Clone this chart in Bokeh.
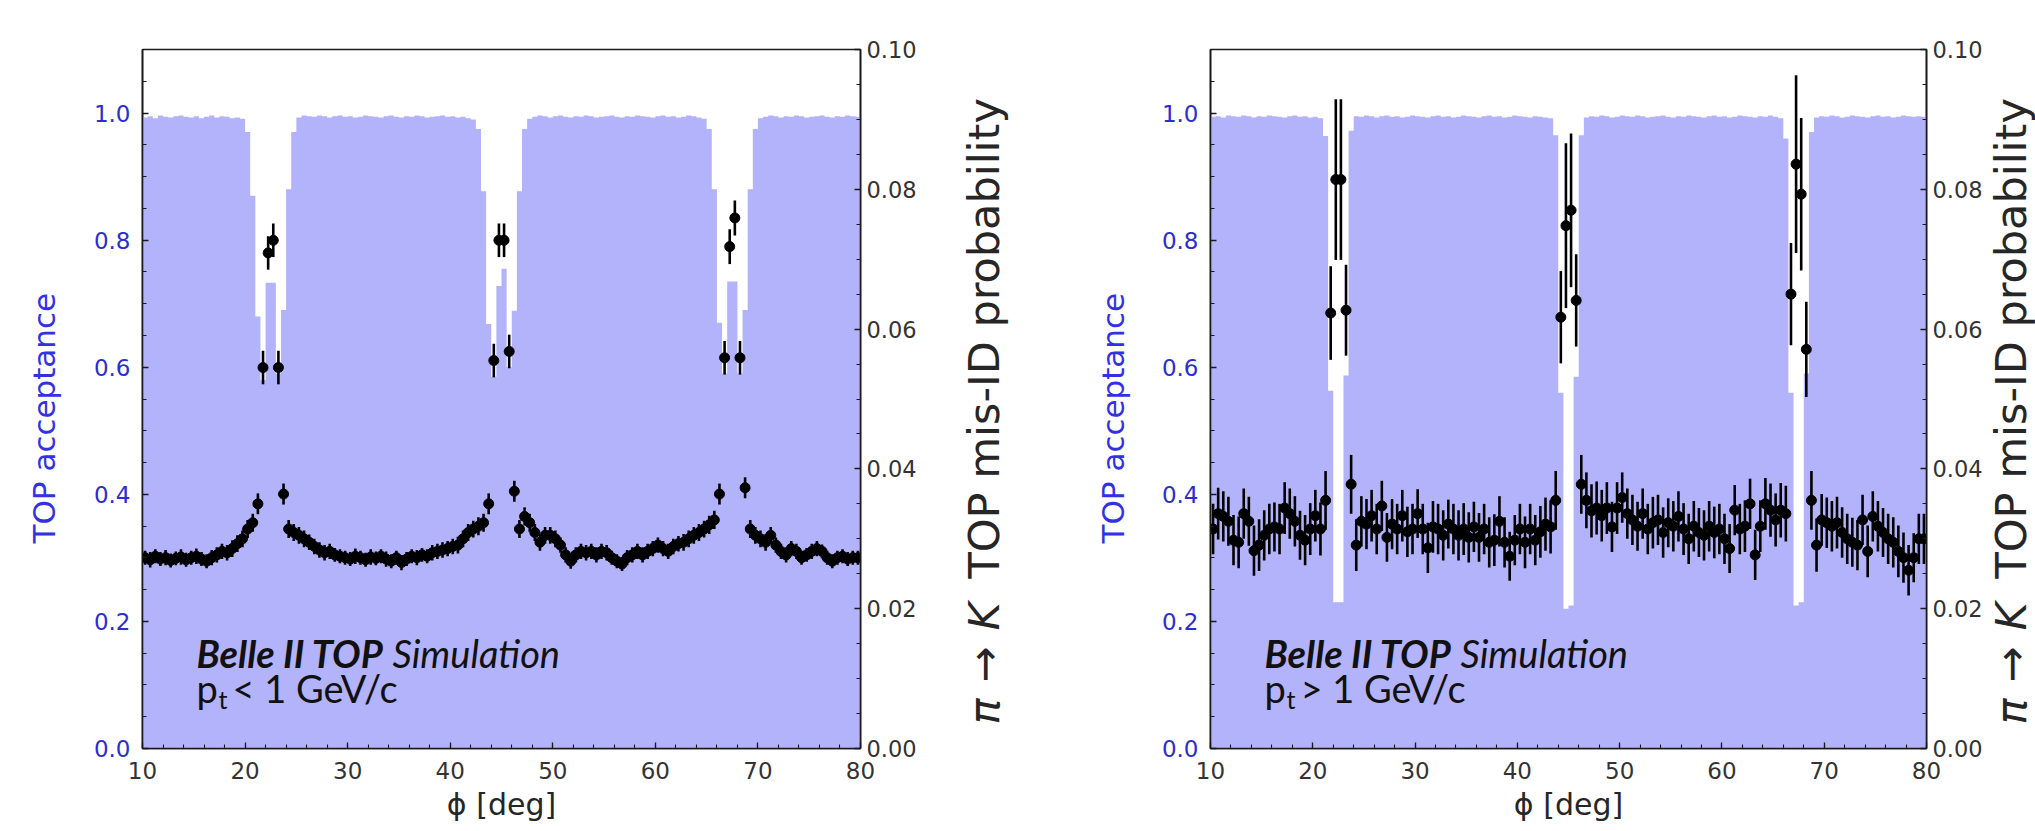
import math
import numpy as np
from bokeh.plotting import figure
from bokeh.models import Range1d, LinearAxis, FixedTicker, Label, PrintfTickFormatter
from bokeh.layouts import row
from bokeh.embed import file_html
from bokeh.resources import INLINE

# ---------------- data ----------------
PHI_MIN, PHI_MAX, BIN_W = 10.0, 80.0, 0.5
phi_edges = np.arange(PHI_MIN, PHI_MAX + BIN_W / 2, BIN_W)
phi_centers = phi_edges[:-1] + BIN_W / 2

x_ticks = [10, 20, 30, 40, 50, 60, 70, 80]
acc_ticks = [0.0, 0.2, 0.4, 0.6, 0.8, 1.0]
mis_ticks = [0.0, 0.02, 0.04, 0.06, 0.08, 0.10]

# TOP acceptance, p_t < 1 GeV/c (0.5 deg bins)
acc_low = [
    0.993, 0.995, 0.992, 0.996, 0.994, 0.993, 0.995, 0.996, 0.994, 0.993,
    0.995, 0.992, 0.994, 0.996, 0.993, 0.995, 0.994, 0.992, 0.993, 0.991,
    0.970, 0.870, 0.680, 0.580, 0.733, 0.733, 0.590, 0.690, 0.880, 0.970,
    0.993, 0.996, 0.995, 0.994, 0.996, 0.995, 0.993, 0.995, 0.996, 0.994,
    0.995, 0.993, 0.994, 0.996, 0.995, 0.994, 0.993, 0.995, 0.996, 0.994,
    0.993, 0.995, 0.994, 0.996, 0.995, 0.993, 0.994, 0.995, 0.996, 0.994,
    0.995, 0.993, 0.994, 0.992, 0.990,
    0.975, 0.877, 0.668, 0.585, 0.728, 0.755, 0.600, 0.689, 0.877, 0.975,
    0.991, 0.994, 0.996, 0.995, 0.993, 0.995, 0.996, 0.994, 0.993, 0.995,
    0.994, 0.996, 0.995, 0.993, 0.994, 0.995, 0.996, 0.994, 0.993, 0.995,
    0.994, 0.996, 0.995, 0.994, 0.993, 0.995, 0.996, 0.994, 0.995, 0.993,
    0.994, 0.996, 0.995, 0.993, 0.991,
    0.975, 0.880, 0.670, 0.590, 0.735, 0.735, 0.590, 0.690, 0.880, 0.975,
    0.992, 0.994, 0.996, 0.995, 0.993, 0.995, 0.994, 0.996, 0.995, 0.993,
    0.994, 0.995, 0.996, 0.994, 0.993, 0.995, 0.994, 0.996, 0.995, 0.994,
]

# pi -> K mis-ID probability, p_t < 1 GeV/c
mis_low = [
    0.0273, 0.0270, 0.0275, 0.0271, 0.0273, 0.0269, 0.0272, 0.0274, 0.0270, 0.0273,
    0.0275, 0.0271, 0.0268, 0.0273,
    0.0277, 0.0282, 0.0280, 0.0286, 0.0293, 0.0300, 0.0314, 0.0323, 0.0350,
    0.0545, 0.0709, 0.0727, 0.0545,
    0.0364, 0.0314, 0.0309, 0.0305, 0.0300, 0.0295, 0.0289, 0.0284, 0.0280, 0.0282,
    0.0277, 0.0275, 0.0273,
    0.0271, 0.0275, 0.0273, 0.0270, 0.0274, 0.0272, 0.0275, 0.0271, 0.0268, 0.0273,
    0.0266, 0.0271, 0.0275, 0.0273, 0.0277, 0.0275,
    0.0280, 0.0282, 0.0284, 0.0286, 0.0289, 0.0291, 0.0300, 0.0309, 0.0314, 0.0318,
    0.0323, 0.0350,
    0.0555, 0.0727, 0.0727, 0.0568,
    0.0368, 0.0314, 0.0332, 0.0323, 0.0309, 0.0295, 0.0305, 0.0305, 0.0300, 0.0291,
    0.0277, 0.0268, 0.0277, 0.0282, 0.0280, 0.0282, 0.0277, 0.0282, 0.0280, 0.0273,
    0.0268, 0.0264, 0.0273, 0.0277, 0.0282, 0.0277, 0.0282, 0.0286, 0.0291, 0.0286,
    0.0282, 0.0289, 0.0293, 0.0295, 0.0300, 0.0305, 0.0309, 0.0314, 0.0320, 0.0327,
    0.0364,
    0.0559, 0.0718, 0.0759, 0.0559,
    0.0373, 0.0314, 0.0305, 0.0300, 0.0295, 0.0305, 0.0291, 0.0282, 0.0277, 0.0286,
    0.0282, 0.0273, 0.0277, 0.0282, 0.0286, 0.0282, 0.0273, 0.0268, 0.0273, 0.0275,
    0.0271, 0.0273, 0.0273,
]

err_low = [
    0.0010, 0.0011, 0.0010, 0.0010, 0.0011, 0.0010, 0.0010, 0.0011, 0.0010, 0.0010,
    0.0011, 0.0010, 0.0010, 0.0011,
    0.0011, 0.0011, 0.0011, 0.0012, 0.0012, 0.0012, 0.0013, 0.0013, 0.0015,
    0.0024, 0.0024, 0.0024, 0.0024,
    0.0015, 0.0013, 0.0012, 0.0012, 0.0012, 0.0011, 0.0011, 0.0011, 0.0011, 0.0011,
    0.0010, 0.0010, 0.0010,
    0.0010, 0.0011, 0.0010, 0.0010, 0.0011, 0.0010, 0.0010, 0.0011, 0.0010, 0.0010,
    0.0011, 0.0010, 0.0010, 0.0011, 0.0010, 0.0010,
    0.0011, 0.0011, 0.0011, 0.0011, 0.0011, 0.0012, 0.0012, 0.0012, 0.0012, 0.0013,
    0.0013, 0.0015,
    0.0024, 0.0024, 0.0024, 0.0024,
    0.0015, 0.0013, 0.0013, 0.0013, 0.0012, 0.0012, 0.0012, 0.0012, 0.0012, 0.0011,
    0.0011, 0.0011, 0.0011, 0.0011, 0.0011, 0.0011, 0.0011, 0.0011, 0.0011, 0.0010,
    0.0010, 0.0010, 0.0011, 0.0011, 0.0011, 0.0011, 0.0011, 0.0011, 0.0011, 0.0011,
    0.0011, 0.0011, 0.0011, 0.0012, 0.0012, 0.0012, 0.0012, 0.0012, 0.0013, 0.0013,
    0.0015,
    0.0024, 0.0025, 0.0025, 0.0024,
    0.0015, 0.0013, 0.0012, 0.0012, 0.0012, 0.0012, 0.0011, 0.0011, 0.0011, 0.0011,
    0.0011, 0.0010, 0.0010, 0.0011, 0.0011, 0.0010, 0.0010, 0.0010, 0.0010, 0.0010,
    0.0010, 0.0010, 0.0010,
]

# TOP acceptance, p_t > 1 GeV/c
acc_high = [
    0.994, 0.995, 0.993, 0.996, 0.995, 0.994, 0.996, 0.995, 0.993, 0.995,
    0.994, 0.996, 0.995, 0.994, 0.993, 0.995, 0.996, 0.994, 0.995, 0.993,
    0.994, 0.992,
    0.964, 0.563, 0.230, 0.230, 0.587, 0.972,
    0.995, 0.994, 0.996, 0.995, 0.993, 0.995, 0.996, 0.994, 0.995, 0.993,
    0.994, 0.996, 0.995, 0.994, 0.993, 0.995, 0.996, 0.994, 0.995, 0.993,
    0.994, 0.996, 0.995, 0.994, 0.993, 0.995, 0.996, 0.994, 0.995, 0.993,
    0.994, 0.996, 0.995, 0.994, 0.993, 0.995, 0.994, 0.993, 0.992,
    0.965, 0.560, 0.220, 0.225, 0.585, 0.965,
    0.993, 0.995, 0.994, 0.996, 0.995, 0.993, 0.994, 0.996, 0.995, 0.994,
    0.996, 0.995, 0.993, 0.994, 0.995, 0.996, 0.994, 0.993, 0.995, 0.994,
    0.996, 0.995, 0.994, 0.993, 0.995, 0.996, 0.994, 0.995, 0.993, 0.994,
    0.996, 0.995, 0.994, 0.993, 0.995, 0.994, 0.996, 0.994, 0.992,
    0.960, 0.560, 0.225, 0.230, 0.590, 0.970,
    0.993, 0.995, 0.994, 0.996, 0.995, 0.993, 0.994, 0.996, 0.995, 0.994,
    0.993, 0.995, 0.996, 0.994, 0.995, 0.993, 0.994, 0.996, 0.995, 0.994,
    0.995, 0.994,
]

# pi -> K mis-ID probability, p_t > 1 GeV/c
mis_high = [
    0.0314, 0.0336, 0.0332, 0.0325, 0.0298, 0.0295, 0.0336, 0.0325, 0.0283, 0.0291,
    0.0305, 0.0314, 0.0317, 0.0314, 0.0344, 0.0336, 0.0325, 0.0305, 0.0298, 0.0314,
    0.0333, 0.0314, 0.0355,
    0.0623, 0.0814, 0.0814, 0.0627,
    0.0378, 0.0291, 0.0325, 0.0321, 0.0333, 0.0314, 0.0347, 0.0302, 0.0321, 0.0314,
    0.0333, 0.0310, 0.0314, 0.0336, 0.0314, 0.0287, 0.0317, 0.0314, 0.0305, 0.0321,
    0.0314, 0.0305, 0.0314, 0.0302, 0.0317, 0.0302, 0.0314, 0.0295, 0.0298, 0.0325,
    0.0295, 0.0275, 0.0298, 0.0314, 0.0295, 0.0314, 0.0298, 0.0310, 0.0321, 0.0317,
    0.0355,
    0.0617, 0.0748, 0.0770, 0.0641,
    0.0378, 0.0355, 0.0340, 0.0344, 0.0333, 0.0344, 0.0317, 0.0344, 0.0359, 0.0336,
    0.0327, 0.0318, 0.0336, 0.0314, 0.0323, 0.0327, 0.0309, 0.0323, 0.0318, 0.0332,
    0.0314, 0.0300, 0.0318, 0.0309, 0.0305, 0.0318, 0.0309, 0.0314, 0.0300, 0.0286,
    0.0341, 0.0314, 0.0318, 0.0350, 0.0277, 0.0318, 0.0350, 0.0341, 0.0327, 0.0341,
    0.0336,
    0.0650, 0.0836, 0.0793, 0.0571,
    0.0355, 0.0291, 0.0327, 0.0323, 0.0318, 0.0323, 0.0309, 0.0300, 0.0295, 0.0291,
    0.0327, 0.0282, 0.0332, 0.0318, 0.0309, 0.0300, 0.0295, 0.0282, 0.0273, 0.0255,
    0.0273, 0.0300, 0.0300,
]

err_high = [
    0.0036, 0.0037, 0.0036, 0.0035, 0.0036, 0.0037, 0.0036, 0.0035, 0.0036, 0.0037,
    0.0036, 0.0036, 0.0035, 0.0036, 0.0037, 0.0036, 0.0036, 0.0035, 0.0036, 0.0037,
    0.0037, 0.0038, 0.0042,
    0.0067, 0.0115, 0.0115, 0.0065,
    0.0042, 0.0037, 0.0036, 0.0036, 0.0037, 0.0036, 0.0036, 0.0035, 0.0036, 0.0036,
    0.0037, 0.0036, 0.0036, 0.0035, 0.0036, 0.0036, 0.0037, 0.0036, 0.0036, 0.0035,
    0.0036, 0.0036, 0.0037, 0.0036, 0.0036, 0.0035, 0.0036, 0.0036, 0.0037, 0.0036,
    0.0036, 0.0035, 0.0036, 0.0036, 0.0037, 0.0036, 0.0036, 0.0037, 0.0038, 0.0038,
    0.0042,
    0.0066, 0.0118, 0.0110, 0.0066,
    0.0042, 0.0040, 0.0038, 0.0038, 0.0037, 0.0037, 0.0036, 0.0037, 0.0036, 0.0036,
    0.0036, 0.0035, 0.0036, 0.0036, 0.0037, 0.0036, 0.0036, 0.0035, 0.0036, 0.0036,
    0.0037, 0.0036, 0.0036, 0.0035, 0.0036, 0.0036, 0.0037, 0.0036, 0.0036, 0.0035,
    0.0036, 0.0036, 0.0037, 0.0036, 0.0036, 0.0037, 0.0037, 0.0038, 0.0038, 0.0039,
    0.0040,
    0.0073, 0.0127, 0.0109, 0.0068,
    0.0042, 0.0038, 0.0037, 0.0036, 0.0036, 0.0037, 0.0036, 0.0036, 0.0035, 0.0036,
    0.0036, 0.0037, 0.0036, 0.0036, 0.0035, 0.0036, 0.0036, 0.0037, 0.0036, 0.0036,
    0.0035, 0.0036, 0.0036,
]

for arr in (acc_low, mis_low, err_low, acc_high, mis_high, err_high):
    assert len(arr) == len(phi_centers), len(arr)

# ---------------- style ----------------
ACC_COLOR = "#b3b3fb"
TICK_BLUE = "#2d2dcf"
LABEL_BLUE = "#3232e4"
DARK = "#262626"
AX_FONT = "DejaVu Sans"
ANN_FONT = "Lato"
FIG_H = 830
FRAME_BOTTOM = 748   # page y of the frames' bottom edge


def make_panel(acc, mis, err, cut_sym, width, b_left, b_right):
    p = figure(width=width, height=FIG_H,
               x_range=Range1d(PHI_MIN, PHI_MAX), y_range=Range1d(0, 1.1),
               output_backend="svg", toolbar_location=None,
               min_border_left=b_left, min_border_right=b_right,
               min_border_top=49, min_border_bottom=82)
    p.extra_y_ranges = {"mis": Range1d(0, 0.1)}
    p.xgrid.visible = False
    p.ygrid.visible = False
    p.outline_line_color = "#1a1a1a"
    p.outline_line_width = 1.6
    p.outline_line_alpha = 1.0

    # acceptance histogram (filled steps)
    p.varea_step(x=list(phi_edges), y1=[0.0] * len(phi_edges), y2=list(acc) + [acc[-1]],
                 step_mode="after", fill_color=ACC_COLOR, fill_alpha=1.0)

    # mis-ID points with error bars (right axis)
    lo = [m - e for m, e in zip(mis, err)]
    hi = [m + e for m, e in zip(mis, err)]
    p.segment(x0=list(phi_centers), y0=lo, x1=list(phi_centers), y1=hi,
              line_color="black", line_width=2.6, y_range_name="mis")
    p.scatter(x=list(phi_centers), y=mis, size=10, fill_color="black",
              line_color="black", y_range_name="mis")

    # x axis
    xa = p.xaxis[0]
    xa.ticker = FixedTicker(ticks=x_ticks, minor_ticks=list(range(10, 81, 2)))
    xa.axis_label = "ϕ [deg]"
    xa.axis_label_text_font = AX_FONT
    xa.axis_label_text_font_size = "30px"
    xa.axis_label_text_font_style = "normal"
    xa.axis_label_text_color = DARK
    xa.axis_label_standoff = 5
    xa.major_label_text_font = AX_FONT
    xa.major_label_text_font_size = "23px"
    xa.major_label_text_color = "#333333"
    xa.major_label_standoff = 13

    # left axis: acceptance (title drawn in the side strip)
    ya = p.yaxis[0]
    ya.ticker = FixedTicker(ticks=acc_ticks,
                            minor_ticks=[round(0.05 * i, 2) for i in range(23)])
    ya.formatter = PrintfTickFormatter(format="%.1f")
    ya.major_label_text_font = AX_FONT
    ya.major_label_text_font_size = "23px"
    ya.major_label_text_color = TICK_BLUE
    ya.major_label_standoff = 12

    # right axis: mis-ID probability (title drawn in the side strip)
    ra = LinearAxis(y_range_name="mis")
    ra.ticker = FixedTicker(ticks=mis_ticks,
                            minor_ticks=[round(0.005 * i, 3) for i in range(21)])
    ra.formatter = PrintfTickFormatter(format="%.2f")
    ra.major_label_text_font = AX_FONT
    ra.major_label_text_font_size = "22.5px"
    ra.major_label_text_color = "#333333"
    ra.major_label_standoff = 6
    p.add_layout(ra, "right")

    for ax in (xa, ya, ra):
        ax.axis_line_color = "#1a1a1a"
        ax.axis_line_width = 1.6
        ax.major_tick_in = 6
        ax.major_tick_out = 0
        ax.minor_tick_in = 4
        ax.minor_tick_out = 0
        ax.major_tick_line_color = "#1a1a1a"
        ax.minor_tick_line_color = "#1a1a1a"
        ax.major_tick_line_width = 1.3
        ax.minor_tick_line_width = 1.1

    # annotation text
    ann = dict(x_units="screen", y_units="screen", text_font=ANN_FONT,
               text_color="#111111", text_baseline="alphabetic")
    p.add_layout(Label(x=54, y=96, text="Belle II TOP", text_font_style="bold italic",
                       text_font_size="38px", **ann))
    p.add_layout(Label(x=250, y=96, text="Simulation", text_font_style="italic",
                       text_font_size="38px", **ann))
    p.add_layout(Label(x=54, y=61, text="p", text_font_size="38px", **ann))
    p.add_layout(Label(x=76, y=50, text="t", text_font_size="25px", **ann))
    p.add_layout(Label(x=90, y=61, text=cut_sym + " 1 GeV/c", text_font_size="38px", **ann))
    return p


def acc_title(xc):
    return [Label(x=xc, y=FRAME_BOTTOM - 543, x_units="screen", y_units="screen",
                  angle=math.pi / 2, text="TOP acceptance", text_font=AX_FONT,
                  text_font_size="31px", text_color=LABEL_BLUE,
                  text_align="left", text_baseline="middle")]


def mis_title(xc):
    pieces = [("π", 0, "italic"), ("→", 42, "normal"), ("K", 94, "italic"),
              ("TOP mis-ID probability", 146, "normal")]
    return [Label(x=xc, y=FRAME_BOTTOM - 724 + off, x_units="screen", y_units="screen",
                  angle=math.pi / 2, text=txt, text_font=AX_FONT,
                  text_font_size="43px", text_font_style=sty, text_color=DARK,
                  text_align="left", text_baseline="middle")
            for txt, off, sty in pieces]


def strip(width, labels):
    f = figure(width=width, height=FIG_H, x_range=Range1d(0, 1), y_range=Range1d(0, 1),
               output_backend="svg", toolbar_location=None,
               x_axis_location=None, y_axis_location=None,
               min_border=0, min_border_left=0, min_border_right=0,
               min_border_top=49, min_border_bottom=82)
    f.xgrid.visible = False
    f.ygrid.visible = False
    f.outline_line_color = None
    for lab in labels:
        f.add_layout(lab)
    return f


# page layout: [strip0 | left panel | strip1 | right panel | strip2]
s0 = strip(70, acc_title(43))
p_low = make_panel(acc_low, mis_low, err_low, "<", 860, 72, 70)
s1 = strip(210, mis_title(53) + acc_title(182))
p_high = make_panel(acc_high, mis_high, err_high, ">", 845, 70, 56)
s2 = strip(50, mis_title(25))

layout = row(s0, p_low, s1, p_high, s2)
open("out.html", "w").write(file_html(layout, INLINE))
